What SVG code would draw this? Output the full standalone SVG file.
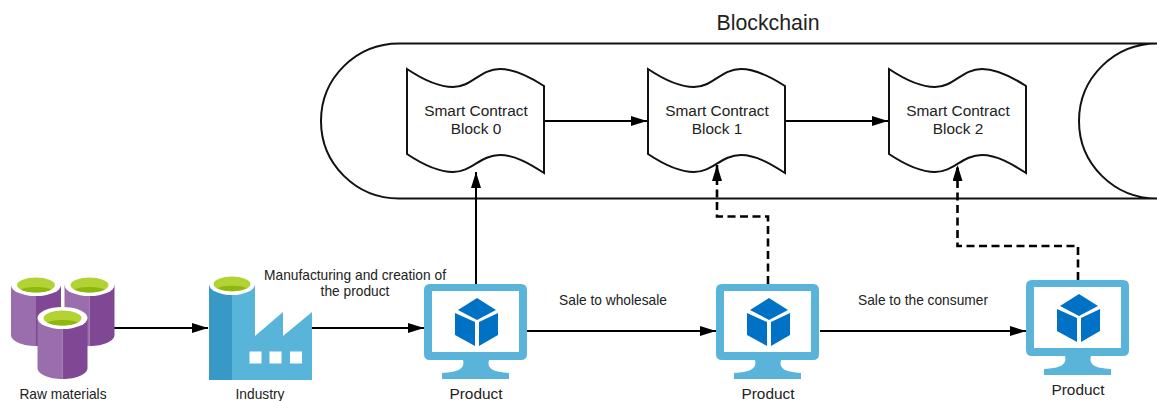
<svg xmlns="http://www.w3.org/2000/svg" xmlns:xlink="http://www.w3.org/1999/xlink" width="1157" height="401" viewBox="0 0 1157 401">
<style>
text{font-family:"Liberation Sans",Arial,sans-serif;fill:#222;text-anchor:middle}
.t{font-size:15.400px}.s{font-size:13.750px}
.doc{fill:#fff;stroke:#111;stroke-width:2}
.c{fill:none;stroke:#000;stroke-width:2}
.d{stroke-width:2.600;stroke-dasharray:8 4.500}
</style>
<defs>
<marker id="a" markerUnits="userSpaceOnUse" markerWidth="17" markerHeight="10" refX="16" refY="5" orient="auto"><path d="M0 0L16 5L0 10Z" fill="#000"/></marker>
<path id="doc" d="M0 0C18 12 33 18 46 18C65 18 73 0 93 0C108 0 123 8 137 17V104C123 95 108 86 93 86C73 86 65 103 46 103C33 103 18 97 0 85Z"/>
<g id="cyl">
<path d="M0 0V50C0 56 11 61 25 61V0Z" fill="#9a6dac"/>
<path d="M25 0V61C39 61 50 56 50 50V0Z" fill="#7f4794"/>
<ellipse cx="25" cy="0" rx="25" ry="11" fill="#fff"/>
<ellipse cx="25" cy="0" rx="19" ry="7.500" fill="#b3d334"/>
<path d="M10 4.500C14 1 36 1 40 4.500C36 8.500 14 8.500 10 4.500Z" fill="#8fb80e"/>
</g>
<g id="mon">
<path fill-rule="evenodd" fill="#5ab4da" d="M6 0H97Q103 0 103 6V70Q103 76 97 76H65C63 84 67 88 85 89V95H18V89C36 88 41 84 39 76H6Q0 76 0 70V6Q0 0 6 0ZM8 7V68H95V7Z"/>
<path fill="#0072c6" d="M53 14L72 26L53 36L34 26Z"/>
<path fill="#0072c6" d="M31 29L51 38V62L31 51Z"/>
<path fill="#0072c6" d="M74 29L55 38V62L74 51Z"/>
</g>
</defs>
<text x="768" y="30" style="font-size:21.300px">Blockchain</text>
<path id="chain" fill="#fff" stroke="#111" stroke-width="2" d="M1157 43.500H399C356 43.500 321 78 321 121C321 164 356 198.500 399 198.500H1157C1114 198.500 1079 164 1079 121C1079 78 1114 43.500 1157 43.500"/>
<g id="connectors">
<path class="c" marker-end="url(#a)" d="M114 328H208"/>
<path class="c" marker-end="url(#a)" d="M311 328H424"/>
<path class="c" marker-end="url(#a)" d="M476 284V172"/>
<path class="c" marker-end="url(#a)" d="M527 331H716"/>
<path class="c" marker-end="url(#a)" d="M820 331H1026"/>
<path class="c" marker-end="url(#a)" d="M545 121H647"/>
<path class="c" marker-end="url(#a)" d="M786 121H888"/>
<path class="c d" marker-end="url(#a)" d="M768 284V216.500H717V165"/>
<path class="c d" marker-end="url(#a)" d="M1078 280V246H957.500V165"/>
</g>
<g id="block0"><use xlink:href="#doc" href="#doc" x="407" y="69" class="doc"/><text class="t" x="476" y="116">Smart Contract</text><text class="t" x="476" y="134">Block 0</text></g>
<g id="block1"><use xlink:href="#doc" href="#doc" x="648" y="69" class="doc"/><text class="t" x="717" y="116">Smart Contract</text><text class="t" x="717" y="134">Block 1</text></g>
<g id="block2"><use xlink:href="#doc" href="#doc" x="889" y="69" class="doc"/><text class="t" x="958" y="116">Smart Contract</text><text class="t" x="958" y="134">Block 2</text></g>
<g id="raw"><use xlink:href="#cyl" href="#cyl" x="11" y="285"/><use xlink:href="#cyl" href="#cyl" x="64.500" y="285"/><use xlink:href="#cyl" href="#cyl" x="37.500" y="318"/><text class="s" x="63" y="399">Raw materials</text></g>
<g id="industry">
<path fill="#3999c6" d="M209 284H232V380H209Z"/>
<path fill="#59b4d9" d="M232 284H255V336L283 312V336L312 312V380H232Z"/>
<ellipse cx="232" cy="284" rx="23" ry="11" fill="#fff"/>
<ellipse cx="232" cy="284" rx="18.500" ry="7.500" fill="#b3d334"/>
<path d="M218 288C222 285 242 285 246 288C242 292 222 292 218 288Z" fill="#8fb80e"/>
<rect x="249.500" y="351.500" width="12" height="12" fill="#fff"/><rect x="269.500" y="351.500" width="12" height="12" fill="#fff"/><rect x="290" y="351.500" width="12" height="12" fill="#fff"/>
<text class="s" x="260" y="399">Industry</text>
</g>
<g id="product1"><use xlink:href="#mon" href="#mon" x="424" y="284"/><text class="t" x="476" y="399">Product</text></g>
<g id="product2"><use xlink:href="#mon" href="#mon" x="716" y="284"/><text class="t" x="768" y="399">Product</text></g>
<g id="product3"><use xlink:href="#mon" href="#mon" x="1026" y="280"/><text class="t" x="1078" y="395">Product</text></g>
<text class="s" x="355" y="280">Manufacturing and creation of</text>
<text class="s" x="355" y="296">the product</text>
<text class="s" x="613" y="305">Sale to wholesale</text>
<text class="s" x="923" y="305">Sale to the consumer</text>
</svg>
